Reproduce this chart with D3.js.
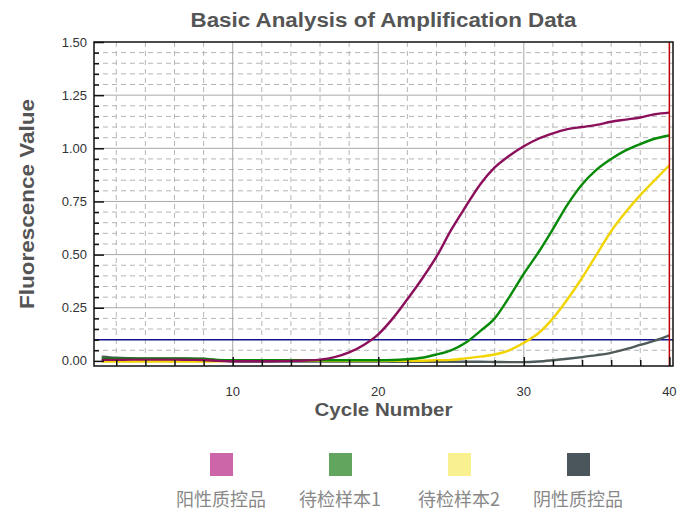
<!DOCTYPE html>
<html>
<head>
<meta charset="utf-8">
<script src="https://cdn.jsdelivr.net/npm/d3@7"></script>
<style>
  body { margin: 0; background: #fff; }
  svg text { font-family: "Liberation Sans", Arial, sans-serif; }
</style>
</head>
<body>
<div id="chart"></div>
<script>
// cycles 1..40
var cycles = d3.range(1, 41);

var positiveCtrl = [0.005, 0.005, 0.006, 0.006, 0.006, 0.006, 0.005, 0.004, 0.000, -0.002,
    -0.002, -0.002, -0.001, 0.000, 0.002, 0.006, 0.018, 0.040, 0.075, 0.125,
    0.200, 0.290, 0.385, 0.490, 0.615, 0.725, 0.830, 0.910, 0.965, 1.010,
    1.045, 1.070, 1.090, 1.100, 1.110, 1.125, 1.135, 1.145, 1.160, 1.168];

var sample1 = [0.010, 0.010, 0.010, 0.010, 0.010, 0.010, 0.010, 0.009, 0.005, 0.003,
    0.003, 0.003, 0.003, 0.003, 0.003, 0.003, 0.003, 0.003, 0.003, 0.003,
    0.004, 0.008, 0.015, 0.030, 0.050, 0.085, 0.140, 0.200, 0.300, 0.410,
    0.510, 0.620, 0.735, 0.830, 0.900, 0.950, 0.990, 1.020, 1.045, 1.060];

var sample2 = [-0.003, -0.003, -0.003, -0.003, -0.003, -0.003, -0.003, -0.003, -0.002, 0.000,
    0.000, 0.000, 0.000, 0.000, 0.000, 0.000, 0.000, 0.000, 0.000, 0.000,
    0.000, 0.000, 0.001, 0.003, 0.005, 0.012, 0.020, 0.030, 0.050, 0.085,
    0.130, 0.200, 0.290, 0.390, 0.500, 0.610, 0.700, 0.780, 0.850, 0.920];

var negativeCtrl = [0.020, 0.015, 0.013, 0.012, 0.012, 0.012, 0.011, 0.010, 0.003, -0.002,
    -0.003, -0.003, -0.003, -0.003, -0.003, -0.003, -0.003, -0.003, -0.003, -0.003,
    -0.004, -0.004, -0.004, -0.004, -0.004, -0.004, -0.004, -0.005, -0.006, -0.006,
    -0.003, 0.003, 0.010, 0.018, 0.027, 0.038, 0.055, 0.075, 0.095, 0.120];

var seriesNames = ["阳性质控品", "待检样本1", "待检样本2", "阴性质控品"];
var lineColors = ["#8c0f5c", "#078a07", "#f2d400", "#4f5a5a"];
var legendColors = ["#cc66a8", "#62a55e", "#f9f090", "#4a555c"];
var yTicks = [0, 0.25, 0.5, 0.75, 1.0, 1.25, 1.5];
var xTicks = [10, 20, 30, 40];
var threshold = 0.1;
var endCycle = 40;

var allSeries = [positiveCtrl, sample1, sample2, negativeCtrl];

var svgWidth = 683, svgHeight = 512;
var margin = { top: 42, right: 10, bottom: 146, left: 94 },
    width = svgWidth - margin.left - margin.right,
    height = svgHeight - margin.top - margin.bottom;

var svg = d3.select("#chart").append("svg")
    .attr("width", svgWidth)
    .attr("height", svgHeight);

var g = svg.append("g")
    .attr("transform", `translate(${margin.left},${margin.top})`);

var x = d3.scaleLinear().domain([0.47, 40.25]).range([0, width]);
var y = d3.scaleLinear().domain([-0.024, 1.5]).range([height, 0]);

// minor grid (dashed)
var minorY = d3.range(0.05, 1.5, 0.05).filter(v => Math.abs(v / 0.25 - Math.round(v / 0.25)) > 0.01);
var minorX = d3.range(2, 40, 2).filter(v => v % 10 !== 0);

g.selectAll(".minorY").data(minorY).enter().append("line")
    .attr("x1", 0).attr("x2", width)
    .attr("y1", d => y(d)).attr("y2", d => y(d))
    .attr("stroke", "#b5b5b5").attr("stroke-dasharray", "5,4");

g.selectAll(".minorX").data(minorX).enter().append("line")
    .attr("x1", d => x(d)).attr("x2", d => x(d))
    .attr("y1", 0).attr("y2", height)
    .attr("stroke", "#b5b5b5").attr("stroke-dasharray", "5,4");

// major grid
g.selectAll(".majorY").data(yTicks.slice(1, -1)).enter().append("line")
    .attr("x1", 0).attr("x2", width)
    .attr("y1", d => y(d)).attr("y2", d => y(d))
    .attr("stroke", "#a8a8a8");

g.selectAll(".majorX").data([10, 20, 30]).enter().append("line")
    .attr("x1", d => x(d)).attr("x2", d => x(d))
    .attr("y1", 0).attr("y2", height)
    .attr("stroke", "#a8a8a8");

// threshold
g.append("line")
    .attr("x1", 0).attr("x2", width)
    .attr("y1", y(threshold)).attr("y2", y(threshold))
    .attr("stroke", "#14148c").attr("stroke-width", 1.5);

// curves, negative first so positive sits on top
var line = d3.line()
    .curve(d3.curveMonotoneX)
    .x((d, i) => x(cycles[i]))
    .y(d => y(d));

var order = [3, 2, 1, 0];
g.selectAll(".curve").data(order).enter().append("path")
    .attr("d", i => line(allSeries[i]))
    .attr("fill", "none")
    .attr("stroke", i => lineColors[i])
    .attr("stroke-width", 2.4);

// end cycle marker
g.append("line")
    .attr("x1", x(endCycle)).attr("x2", x(endCycle))
    .attr("y1", 0).attr("y2", height)
    .attr("stroke", "#c00000").attr("stroke-width", 1.5);

// frame
g.append("rect")
    .attr("width", width).attr("height", height)
    .attr("fill", "none").attr("stroke", "#111").attr("stroke-width", 1.5);

// y axis ticks (inward)
g.append("g")
    .call(d3.axisRight(y).tickValues(minorY).tickSize(5).tickFormat(""))
    .call(a => a.select(".domain").remove())
    .selectAll("line").attr("stroke", "#111").attr("stroke-width", 1.5);

g.append("g")
    .call(d3.axisRight(y).tickValues(yTicks).tickSize(10).tickFormat(""))
    .call(a => a.select(".domain").remove())
    .selectAll("line").attr("stroke", "#111").attr("stroke-width", 1.5);

g.selectAll(".ylab").data(yTicks).enter().append("text")
    .attr("x", -7).attr("y", d => y(d)).attr("dy", "0.35em")
    .attr("text-anchor", "end")
    .attr("font-size", 13).attr("fill", "#333")
    .text(d3.format(".2f"));

// x axis ticks (inward)
g.append("g")
    .attr("transform", `translate(0,${height})`)
    .call(d3.axisTop(x).tickValues(minorX).tickSize(6).tickFormat(""))
    .call(a => a.select(".domain").remove())
    .selectAll("line").attr("stroke", "#111").attr("stroke-width", 1.5);

g.append("g")
    .attr("transform", `translate(0,${height})`)
    .call(d3.axisTop(x).tickValues(xTicks).tickSize(9).tickFormat(""))
    .call(a => a.select(".domain").remove())
    .selectAll("line").attr("stroke", "#111").attr("stroke-width", 1.5);

g.selectAll(".xlab").data(xTicks).enter().append("text")
    .attr("x", d => x(d)).attr("y", height + 30)
    .attr("text-anchor", "middle")
    .attr("font-size", 13).attr("fill", "#333")
    .text(d => d);

// titles
svg.append("text")
    .attr("x", margin.left + width / 2).attr("y", 27)
    .attr("text-anchor", "middle")
    .attr("font-size", 20).attr("font-weight", "bold").attr("fill", "#555")
    .attr("textLength", 386).attr("lengthAdjust", "spacingAndGlyphs")
    .text("Basic Analysis of Amplification Data");

svg.append("text")
    .attr("x", margin.left + width / 2).attr("y", 416)
    .attr("text-anchor", "middle")
    .attr("font-size", 19).attr("font-weight", "bold").attr("fill", "#555")
    .attr("textLength", 138).attr("lengthAdjust", "spacingAndGlyphs")
    .text("Cycle Number");

svg.append("text")
    .attr("transform", "translate(34,204) rotate(-90)")
    .attr("text-anchor", "middle")
    .attr("font-size", 20).attr("font-weight", "bold").attr("fill", "#555")
    .attr("textLength", 210).attr("lengthAdjust", "spacingAndGlyphs")
    .text("Fluorescence Value");

// legend
var lx = d3.scalePoint().domain(seriesNames).range([221, 578]);

var legend = svg.selectAll(".legend").data(seriesNames).enter().append("g")
    .attr("transform", d => `translate(${lx(d)},0)`);

legend.append("rect")
    .attr("x", -11).attr("y", 453)
    .attr("width", 23).attr("height", 23)
    .attr("fill", (d, i) => legendColors[i]);

legend.append("text")
    .attr("y", 506)
    .attr("text-anchor", "middle")
    .attr("font-size", 18)
    .attr("fill", "#888")
    .style("font-family", "'Noto Sans CJK SC', 'Noto Sans', sans-serif")
    .text(d => d);
</script>
</body>
</html>
